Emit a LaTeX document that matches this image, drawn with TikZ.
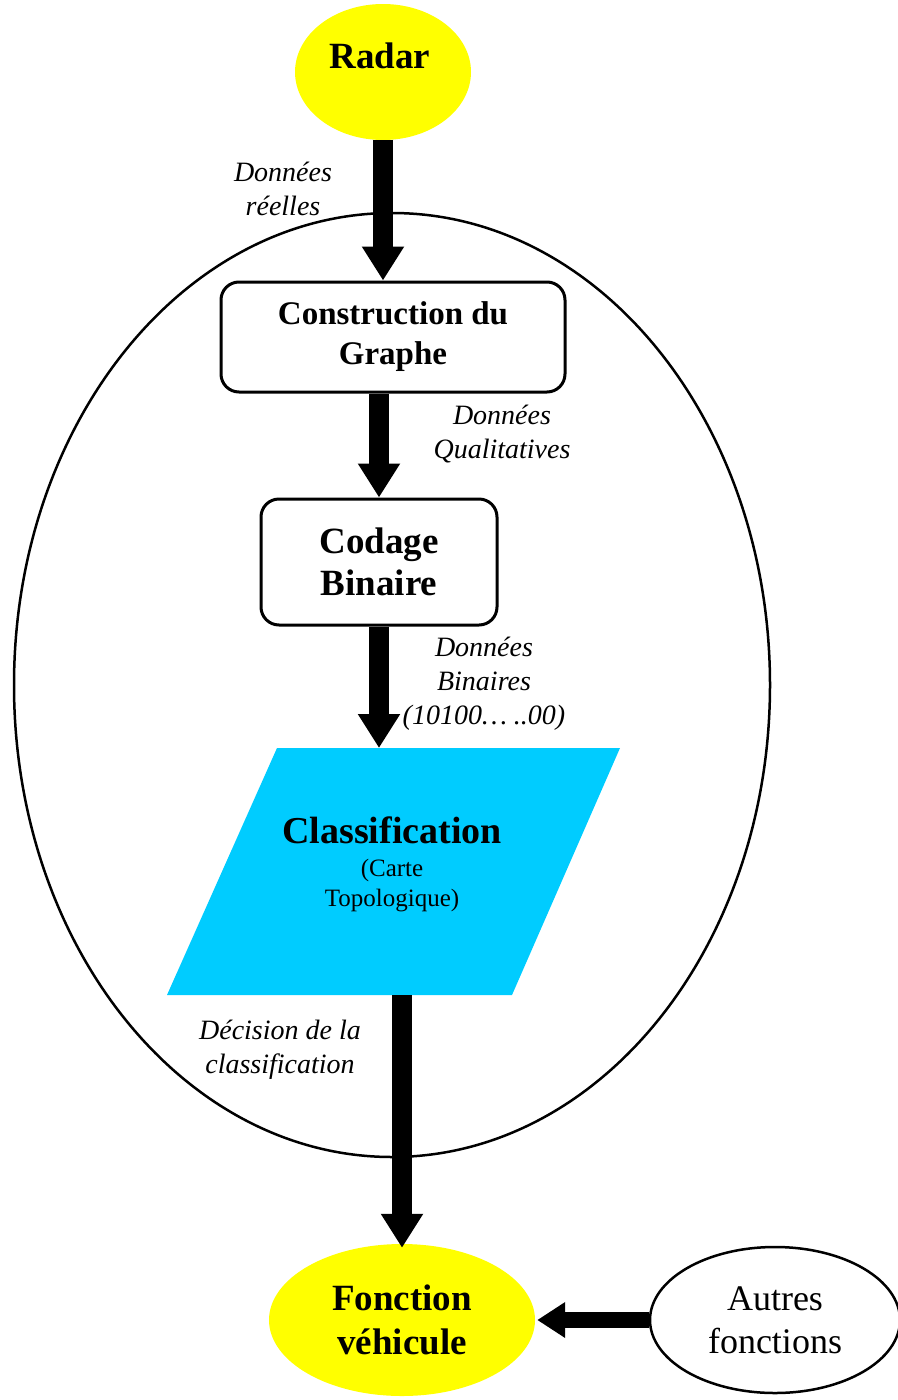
\documentclass[tikz,border=0pt]{standalone}
\usepackage{fontspec}
\setmainfont{Liberation Serif}
\usetikzlibrary{arrows.meta,shapes.geometric,calc}
\definecolor{ylw}{RGB}{255,255,0}
\definecolor{cyn}{RGB}{0,204,255}
\begin{document}
\begin{tikzpicture}[x=1pt,y=-1pt,
  bigarrow/.style={line width=20pt,-{Triangle[width=40pt,length=34pt]}},
  sidearrow/.style={line width=16pt,-{Triangle[width=34pt,length=28pt]}},
  stepbox/.style={draw,line width=3pt,rounded corners=18pt,fill=white,align=center,inner sep=0pt},
  lab/.style={font=\fontsize{28}{34}\selectfont\itshape,align=center,inner sep=0pt},
  yell/.style={ellipse,fill=ylw,inner sep=0pt},
  boldtxt/.style={font=\bfseries,align=center,inner sep=0pt}]
\useasboundingbox[fill=white] (0,0) rectangle (897,1400);

% system boundary
\node[draw,ellipse,line width=2.5pt,minimum width=756pt,minimum height=944pt,inner sep=0pt] (sys) at (392,685) {};

% Radar
\node[yell,minimum width=176pt,minimum height=136pt] (radar) at (383,72) {};
\node[boldtxt,font=\fontsize{37}{40}\selectfont\bfseries] (radartxt) at (380,56) {Radar};

% Construction du graphe
\node[stepbox,minimum width=344pt,minimum height=110pt,font=\fontsize{33}{40}\selectfont\bfseries] (c1) at (393,337) {Construction du\\Graphe};

% Codage binaire
\node[stepbox,minimum width=236pt,minimum height=126pt,font=\fontsize{37}{42}\selectfont\bfseries] (c2) at (379,562) {Codage\\Binaire};

% Classification parallelogram
\fill[cyn] (277,748) -- (620,748) -- (512,995) -- (167,995) -- cycle;
\coordinate (clstop) at (378,748);
\coordinate (clsbot) at (398,995);
\node[boldtxt,font=\fontsize{38}{40}\selectfont\bfseries] (cls) at (392,830) {Classification};
\node[align=center,inner sep=0pt,font=\fontsize{25}{30}\selectfont] (clssub) at (392,886) {(Carte\\Topologique)};

% Fonction vehicule
\node[yell,minimum width=266pt,minimum height=152pt,font=\fontsize{37}{44}\selectfont\bfseries,align=center] (fv) at (402,1320) {Fonction\\véhicule};

% Autres fonctions
\node[draw,ellipse,line width=2.5pt,minimum width=250pt,minimum height=146pt,inner sep=0pt,font=\fontsize{36}{43}\selectfont,align=center] (af) at (775,1320) {Autres\\fonctions};

% arrows
\draw[bigarrow] (radar.south) -- (radar.south |- c1.north);
\draw[bigarrow] (c2.north |- c1.south) -- (c2.north);
\draw[bigarrow] (c2.south) -- (c2.south |- clstop);
\draw[bigarrow] (fv.north |- clsbot) -- ([yshift=-4pt]fv.north);
\draw[sidearrow] (af.west) -- ([xshift=2pt]fv.east);

% labels
\node[lab] (l1) at (283,189) {Données\\réelles};
\node[lab] (l2) at (502,434) {Données\\Qualitatives};
\node[lab] (l3) at (484,684) {Données\\Binaires\\(10100… ..00)};
\node[lab] (l4) at (280,1050) {Décision de la\\classification};
\end{tikzpicture}
\end{document}
